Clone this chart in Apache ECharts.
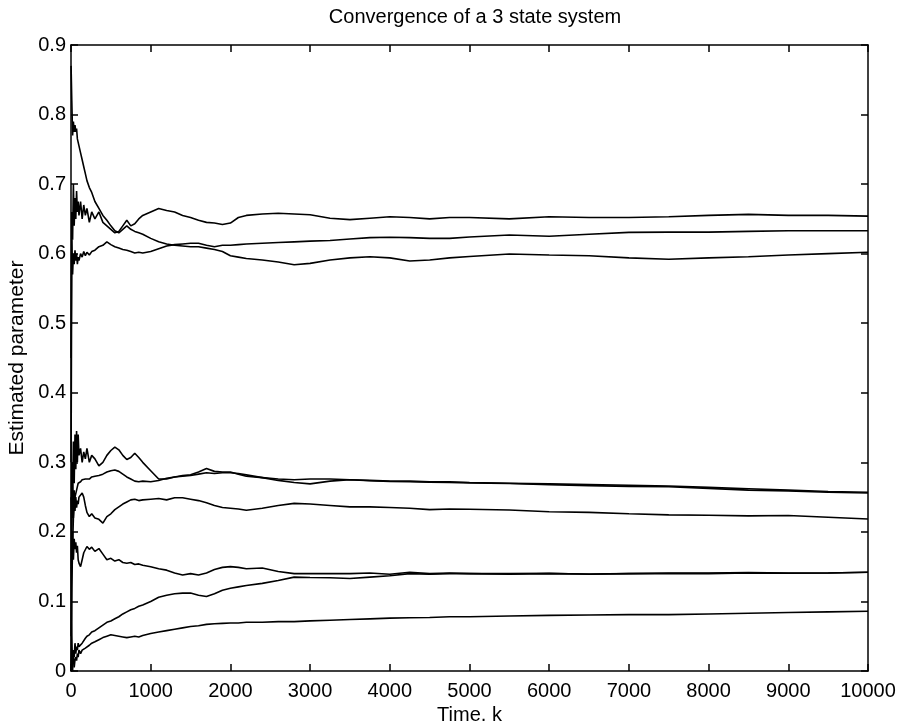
<!DOCTYPE html>
<html><head><meta charset="utf-8">
<script src="https://cdn.jsdelivr.net/npm/echarts/dist/echarts.min.js"></script>
<style>html,body{margin:0;padding:0;background:#fff}#c{width:901px;height:721px}</style>
</head><body><div id="c"></div>
<script>
// time steps
const kSteps = [1,10,20,30,40,50,60,70,80,90,100,120,140,160,180,200,230,260,300,350,400,450,500,550,600,650,700,750,800,850,900,1000,1100,1200,1300,1400,1500,1600,1700,1800,1900,2000,2100,2200,2400,2600,2800,3000,3250,3500,3750,4000,4250,4500,4750,5000,5500,6000,6500,7000,7500,8000,8500,9000,9500,10000];

// upper group
const pTop = [0.45,0.66,0.62,0.70,0.64,0.68,0.65,0.69,0.66,0.675,0.655,0.675,0.65,0.67,0.655,0.665,0.645,0.66,0.65,0.66,0.645,0.64,0.635,0.63,0.632,0.64,0.648,0.64,0.643,0.65,0.655,0.66,0.665,0.662,0.66,0.655,0.652,0.648,0.645,0.644,0.642,0.644,0.652,0.655,0.657,0.658,0.657,0.656,0.651,0.649,0.651,0.653,0.652,0.650,0.652,0.652,0.650,0.653,0.652,0.652,0.653,0.655,0.6565,0.655,0.655,0.654];
const pMid = [0.30,0.62,0.57,0.60,0.585,0.605,0.59,0.60,0.585,0.595,0.59,0.60,0.595,0.603,0.597,0.602,0.598,0.603,0.605,0.61,0.612,0.617,0.613,0.61,0.608,0.606,0.605,0.603,0.601,0.602,0.601,0.603,0.607,0.611,0.613,0.614,0.615,0.615,0.612,0.61,0.612,0.612,0.613,0.614,0.615,0.616,0.617,0.618,0.619,0.621,0.623,0.6235,0.623,0.622,0.622,0.624,0.6268,0.625,0.628,0.6306,0.631,0.631,0.632,0.633,0.633,0.633];
const pLow = [0.87,0.82,0.77,0.79,0.775,0.785,0.775,0.78,0.765,0.76,0.755,0.745,0.735,0.725,0.715,0.705,0.695,0.688,0.675,0.665,0.655,0.648,0.64,0.633,0.63,0.635,0.64,0.635,0.632,0.63,0.628,0.622,0.617,0.614,0.612,0.611,0.61,0.61,0.608,0.606,0.603,0.597,0.595,0.593,0.591,0.588,0.584,0.586,0.591,0.594,0.5955,0.594,0.5895,0.591,0.594,0.596,0.5995,0.598,0.597,0.594,0.592,0.594,0.5956,0.598,0.600,0.602];

// lower-middle group
const q1 = [0.15,0.30,0.25,0.33,0.27,0.34,0.29,0.345,0.30,0.34,0.31,0.32,0.30,0.315,0.305,0.32,0.30,0.31,0.305,0.295,0.30,0.31,0.317,0.322,0.318,0.31,0.304,0.307,0.313,0.307,0.30,0.288,0.276,0.276,0.279,0.281,0.282,0.286,0.291,0.287,0.286,0.286,0.283,0.28,0.278,0.276,0.275,0.276,0.276,0.275,0.274,0.273,0.273,0.272,0.272,0.271,0.27,0.269,0.268,0.267,0.266,0.264,0.262,0.26,0.258,0.257];
const q2 = [0.0,0.12,0.18,0.22,0.24,0.25,0.255,0.26,0.265,0.27,0.268,0.272,0.275,0.273,0.276,0.277,0.276,0.279,0.28,0.281,0.283,0.286,0.288,0.289,0.287,0.283,0.279,0.276,0.273,0.272,0.273,0.272,0.274,0.277,0.279,0.28,0.281,0.283,0.285,0.284,0.285,0.285,0.284,0.282,0.278,0.274,0.271,0.269,0.273,0.275,0.2735,0.2725,0.272,0.2715,0.271,0.2705,0.2695,0.268,0.2665,0.2655,0.265,0.2625,0.26,0.259,0.257,0.256];
const q3 = [0.25,0.20,0.27,0.22,0.26,0.23,0.25,0.235,0.245,0.24,0.25,0.252,0.256,0.25,0.238,0.228,0.222,0.226,0.22,0.218,0.2127,0.222,0.226,0.232,0.236,0.24,0.243,0.246,0.247,0.245,0.246,0.247,0.248,0.246,0.249,0.249,0.247,0.245,0.242,0.238,0.235,0.234,0.233,0.231,0.234,0.238,0.241,0.24,0.238,0.236,0.236,0.235,0.234,0.232,0.233,0.2325,0.2315,0.229,0.228,0.226,0.2245,0.224,0.223,0.2236,0.221,0.2185];

// lower group
const r1 = [0.05,0.15,0.20,0.16,0.19,0.175,0.185,0.17,0.18,0.16,0.155,0.15,0.16,0.17,0.172,0.179,0.175,0.178,0.172,0.176,0.168,0.16,0.162,0.158,0.16,0.156,0.155,0.156,0.153,0.154,0.152,0.15,0.147,0.145,0.141,0.138,0.14,0.138,0.141,0.146,0.149,0.15,0.149,0.147,0.148,0.143,0.14,0.14,0.14,0.14,0.141,0.139,0.142,0.14,0.141,0.14,0.14,0.1405,0.139,0.14,0.141,0.141,0.1415,0.141,0.141,0.142];
const r2 = [0.15,0.05,0.0,0.03,0.02,0.04,0.025,0.035,0.03,0.04,0.035,0.033,0.04,0.042,0.047,0.05,0.052,0.056,0.058,0.062,0.066,0.07,0.072,0.075,0.078,0.082,0.085,0.088,0.09,0.093,0.095,0.1,0.106,0.109,0.111,0.112,0.112,0.109,0.107,0.111,0.116,0.119,0.121,0.123,0.126,0.13,0.135,0.1345,0.134,0.133,0.135,0.137,0.14,0.139,0.14,0.14,0.139,0.14,0.1395,0.14,0.14,0.14,0.141,0.1405,0.141,0.142];
const r3 = [0.0,0.03,0.01,0.02,0.005,0.016,0.02,0.015,0.025,0.02,0.03,0.025,0.03,0.028,0.033,0.035,0.037,0.04,0.042,0.045,0.048,0.05,0.052,0.051,0.05,0.049,0.048,0.049,0.05,0.049,0.051,0.054,0.056,0.058,0.06,0.062,0.064,0.065,0.067,0.068,0.0685,0.069,0.069,0.07,0.07,0.071,0.071,0.072,0.073,0.074,0.075,0.076,0.0765,0.077,0.078,0.078,0.079,0.08,0.0805,0.081,0.081,0.082,0.083,0.084,0.085,0.086];

const xTicks = [0,1000,2000,3000,4000,5000,6000,7000,8000,9000,10000];
const yTickLabels = ['0','0.1','0.2','0.3','0.4','0.5','0.6','0.7','0.8','0.9'];

const FONT = 'Liberation Sans, Arial, Helvetica, sans-serif';
const all = [pTop,pMid,pLow,q1,q2,q3,r1,r2,r3];

const chart = echarts.init(document.getElementById('c'), null, {renderer:'canvas'});
const mkLine = () => ({show:true, onZero:false, lineStyle:{color:'#000', width:1.5}});
const mkTick = () => ({show:true, inside:true, length:7, lineStyle:{color:'#000', width:1.5}});
chart.setOption({
  animation:false,
  backgroundColor:'#fff',
  title:{text:'Convergence of a 3 state system', left:470, top:2, textAlign:'center',
    textStyle:{fontFamily:FONT, fontSize:20, fontWeight:'normal', color:'#000'}},
  grid:{left:71, top:45, right:33, bottom:50, containLabel:false, outerBoundsMode:'none'},
  xAxis:[{type:'value', min:0, max:10000, interval:1000, position:'bottom',
      axisLine:mkLine(), axisTick:mkTick(), splitLine:{show:false},
      axisLabel:{fontFamily:FONT, fontSize:20, color:'#000', margin:10,
        formatter:v=>String(xTicks[Math.round(v/1000)])},
      name:'Time, k', nameLocation:'middle', nameGap:31,
      nameTextStyle:{fontFamily:FONT, fontSize:20, color:'#000'}},
    {type:'value', min:0, max:10000, interval:1000, position:'top',
      axisLine:mkLine(), axisTick:mkTick(), axisLabel:{show:false}, splitLine:{show:false}}],
  yAxis:[{type:'value', min:0, max:0.9, interval:0.1, position:'left',
      axisLine:mkLine(), axisTick:mkTick(), splitLine:{show:false},
      axisLabel:{fontFamily:FONT, fontSize:20, color:'#000', margin:5,
        formatter:v=>yTickLabels[Math.round(v*10)]},
      name:'Estimated parameter', nameLocation:'middle', nameGap:37,
      nameTextStyle:{fontFamily:FONT, fontSize:21, color:'#000'}},
    {type:'value', min:0, max:0.9, interval:0.1, position:'right',
      axisLine:mkLine(), axisTick:mkTick(), axisLabel:{show:false}, splitLine:{show:false}}],
  series: all.map(v => ({type:'line', xAxisIndex:0, yAxisIndex:0, showSymbol:false, symbol:'none',
    data:kSteps.map((x,i)=>[x, v[i]]), lineStyle:{color:'#000', width:1.6}, silent:true}))
});
</script>
</body></html>
